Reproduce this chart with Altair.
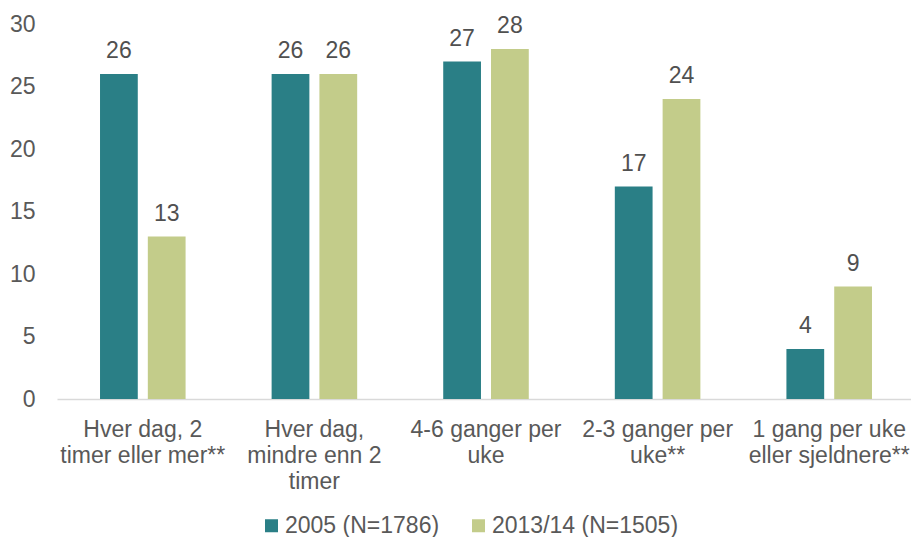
import altair as alt
import pandas as pd

categories = ["Hver dag, 2|timer eller mer**", "Hver dag,|mindre enn 2|timer",
              "4-6 ganger per|uke", "2-3 ganger per|uke**", "1 gang per uke|eller sjeldnere**"]
series = ["2005 (N=1786)", "2013/14 (N=1505)"]
v2005 = [26, 26, 27, 17, 4]
v2013 = [13, 26, 28, 24, 9]
colors = ["#2A7F86", "#C3CC8A"]

rows = []
for c, a, b in zip(categories, v2005, v2013):
    rows.append({"cat": c, "series": series[0], "value": a})
    rows.append({"cat": c, "series": series[1], "value": b})
df = pd.DataFrame(rows)

FONT = "Liberation Sans"
TXT = "#595959"
FS = 23

x = alt.X("cat:N", sort=categories, title=None,
          scale=alt.Scale(paddingInner=0, paddingOuter=0, range=[0, 858]),
          axis=alt.Axis(labelAngle=0, labelExpr="split(datum.label, '|')",
                        labelFont=FONT, labelFontSize=FS, labelColor=TXT,
                        labelLineHeight=26, labelPadding=19, labelBaseline="top",
                        ticks=False, domainColor="#D9D9D9", domainWidth=1.5,
                        labelLimit=300))
xo = alt.XOffset("series:N", sort=series,
                 scale=alt.Scale(paddingInner=0.21, paddingOuter=0.9))
y = alt.Y("value:Q", title=None,
          scale=alt.Scale(domain=[0, 30], nice=False),
          axis=alt.Axis(values=[0, 5, 10, 15, 20, 25, 30], grid=False, domain=False,
                        ticks=False, labelFont=FONT, labelFontSize=FS,
                        labelColor=TXT, labelPadding=22))
color = alt.Color("series:N", sort=series,
                  scale=alt.Scale(domain=series, range=colors),
                  legend=alt.Legend(title=None, orient="none", direction="horizontal",
                                    legendX=203, legendY=490,
                                    symbolType="square", symbolSize=169,
                                    symbolStrokeWidth=0, labelOffset=2,
                                    columnPadding=27, labelFont=FONT,
                                    labelFontSize=FS, labelColor=TXT, labelLimit=300))

bars = alt.Chart(df).mark_bar().encode(x=x, xOffset=xo, y=y, color=color)
labels = alt.Chart(df).mark_text(font=FONT, fontSize=FS, color="#505050",
                                 baseline="alphabetic", dy=-16).encode(
    x=x, xOffset=xo, y=y, text="value:Q")

chart = (bars + labels).properties(
    width=854, height=375,
    autosize=alt.AutoSizeParams(type="none"),
    padding={"left": 49, "top": 16, "right": 0, "bottom": 138},
).configure_view(stroke=None)

chart.save("out.html", embed_options={"renderer": "svg", "actions": False})
